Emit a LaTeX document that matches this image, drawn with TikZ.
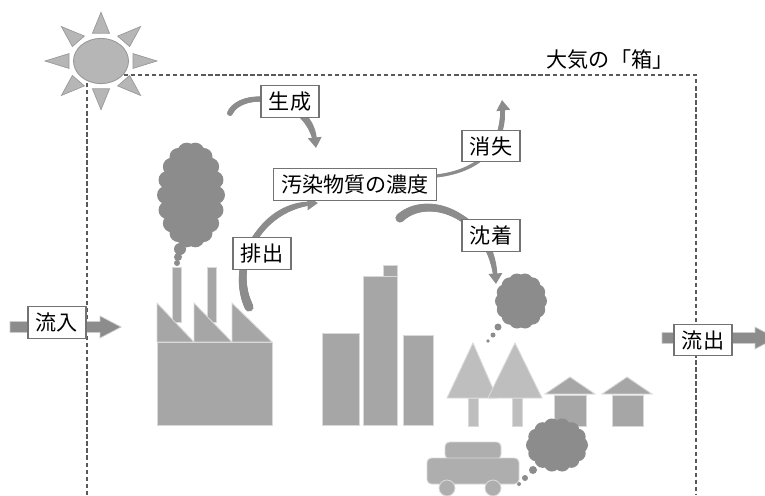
\documentclass[tikz,border=0pt]{standalone}
\usepackage{fontspec}
\newfontfamily\jp{Noto Sans CJK JP}
\usetikzlibrary{arrows.meta,decorations.markings}

\definecolor{smoke}{RGB}{140,140,140}
\definecolor{bldg}{RGB}{166,166,166}
\definecolor{treec}{RGB}{190,190,190}
\definecolor{sunc}{RGB}{182,182,182}
\definecolor{carc}{RGB}{174,174,174}

\tikzset{
  lbl/.style={draw=black!55, fill=white, line width=0.6pt, inner xsep=4.5pt,
    inner ysep=3.5pt, font=\jp\fontsize{12}{14}\selectfont},
  curved/.style={draw=smoke, -{Triangle[length=6pt,width=7.5pt]}},
  % stroke that goes from radius #1 to radius #2 (pt)
  taper/.style 2 args={decoration={markings,
    mark=between positions 0 and 0.93 step 0.6pt with {
      \pgfmathsetmacro\tr{#1+(#2-#1)*\pgfkeysvalueof{/pgf/decoration/mark info/distance from start}/\pgfdecoratedpathlength}
      \fill[smoke] (0,0) circle (\tr pt);}}, decorate},
  block/.style={fill=bldg, draw=white!85!black, line width=0.5pt},
  puff/.style={fill=smoke},
  boxline/.style={draw=black!65, line width=0.6pt, dash pattern=on 2.5pt off 1.5pt},
}

\begin{document}
\begin{tikzpicture}[x=0.02cm,y=-0.02cm]
\useasboundingbox (0,0) rectangle (765,495);
\clip (0,0) rectangle (765,495);

% the box of air
\draw[boxline] (87,495) -- (87,75) -- (696,75) -- (696,495);
\node[font=\jp\fontsize{12}{14}\selectfont] (title) at (610,60) {大気の「箱」};

% sun
\begin{scope}[shift={(101,61)}, yscale=0.87]
  \foreach \a in {0,45,...,315}
    \filldraw[fill=sunc, draw=black!40, line width=0.4pt]
      (\a:56) -- ([shift={(\a+90:8.5)}]\a:32) -- ([shift={(\a-90:8.5)}]\a:32) -- cycle;
  \filldraw[fill=sunc, draw=black!40, line width=0.5pt] (0,0) ellipse (27.5 and 26);
\end{scope}

% inflow and outflow
\filldraw[fill=smoke, draw=white!80!black, line width=0.4pt]
  (10,321.5) -- (100,321.5) -- (100,316) -- (121,327) -- (100,338) -- (100,332.5) -- (10,332.5) -- cycle;
\filldraw[fill=smoke, draw=white!80!black, line width=0.4pt]
  (662,332.5) -- (755,332.5) -- (755,327) -- (776,338) -- (755,349) -- (755,343.5) -- (662,343.5) -- cycle;

% curved arrows
\coordinate (gen-a) at (230,113);
\coordinate (gen-b) at (316,148);
\draw[curved, line width=2.2pt, postaction={taper={1.7}{1.1}}]
  (gen-a) .. controls (242,88) and (310,95) .. (gen-b);
\coordinate (emit-a) at (249,307);
\coordinate (emit-b) at (318,203);
\draw[curved, line width=2pt, postaction={taper={2.6}{1}}]
  (emit-a) .. controls (228,262) and (262,205) .. (emit-b);
\coordinate (loss-a) at (436,176);
\coordinate (loss-b) at (502,100);
\draw[curved, line width=1.7pt, postaction={taper={0.85}{1.5}}]
  (loss-a) .. controls (490,170) and (506,135) .. (loss-b);
\coordinate (depo-a) at (400,218);
\coordinate (depo-b) at (496,284);
\draw[curved, line width=2.2pt, postaction={taper={2.6}{1.1}}]
  (depo-a) .. controls (428,192) and (492,215) .. (depo-b);

% factory and its smoke
\fill[puff] (191,195) ellipse (26 and 45);
\foreach \a in {0,20,...,340}
  \fill[puff] ([shift={(191,195)}]\a:25 and 44) circle (9);
\fill[puff] (180,249) circle (6);
\fill[puff] (178,257) circle (4);
\fill[puff] (177,263) circle (3);
\filldraw[block] (172,267) rectangle (181,322);
\filldraw[block] (207,267) rectangle (216,322);
\filldraw[block] (157,303) -- (194,342) -- (157,342) -- cycle;
\filldraw[block] (194,303) -- (232,342) -- (194,342) -- cycle;
\filldraw[block] (232,303) -- (272,342) -- (232,342) -- cycle;
\filldraw[block] (157,342) rectangle (272,425);

% buildings
\filldraw[block] (322,333) rectangle (359,425);
\filldraw[block] (383,265) rectangle (397,276);
\filldraw[block] (363,276) rectangle (397,425);
\filldraw[block] (403,335) rectangle (433,425);

% deposited smoke
\fill[puff] (521,301) ellipse (17 and 19);
\foreach \a in {0,25.7,...,340}
  \fill[puff] ([shift={(521,301)}]\a:18 and 20) circle (8);
\fill[puff] (498,327) circle (3.5);
\fill[puff] (493,335) circle (2.5);
\fill[puff] (488,341) circle (1.8);

% trees
\filldraw[fill=treec, draw=white!85!black, line width=0.5pt] (468,398) rectangle (478,426);
\filldraw[fill=treec, draw=white!85!black, line width=0.5pt] (447,398) -- (473,343) -- (497,398) -- cycle;
\filldraw[fill=treec, draw=white!85!black, line width=0.5pt] (512,398) rectangle (522,426);
\filldraw[fill=treec, draw=white!85!black, line width=0.5pt] (488,398) -- (515,343) -- (542,398) -- cycle;

% houses
\filldraw[block] (554,395) rectangle (586,426);
\filldraw[block] (545,394) -- (570,377) -- (595,394) -- cycle;
\filldraw[block] (612,395) rectangle (643,426);
\filldraw[block] (602,394) -- (627,377) -- (652,394) -- cycle;

% car and exhaust
\fill[puff] (557,445) ellipse (22 and 18);
\foreach \a in {0,25.7,...,340}
  \fill[puff] ([shift={(557,445)}]\a:23 and 19) circle (8);
\fill[puff] (533,470) circle (4);
\fill[puff] (525,478) circle (3);
\fill[puff] (519,484) circle (2);
\filldraw[fill=carc, draw=white!85!black, line width=0.5pt, rounded corners=2.5] (445,442) rectangle (501,459);
\filldraw[fill=carc, draw=white!85!black, line width=0.5pt, rounded corners=2.5] (427,458) rectangle (519,484);
\filldraw[fill=carc, draw=white!85!black, line width=0.5pt] (447,488) circle (8);
\filldraw[fill=carc, draw=white!85!black, line width=0.5pt] (493,488) circle (8);

% labels
\node[lbl] (gen) at (290,101.5) {生成};
\node[lbl] (conc) at (355,184.5) {汚染物質の濃度};
\node[lbl] (loss) at (491,146) {消失};
\node[lbl] (depo) at (491,235.5) {沈着};
\node[lbl] (emit) at (262,253.5) {排出};
\node[lbl] (inflow) at (57,322.5) {流入};
\node[lbl] (outflow) at (703,340) {流出};
\end{tikzpicture}
\end{document}
